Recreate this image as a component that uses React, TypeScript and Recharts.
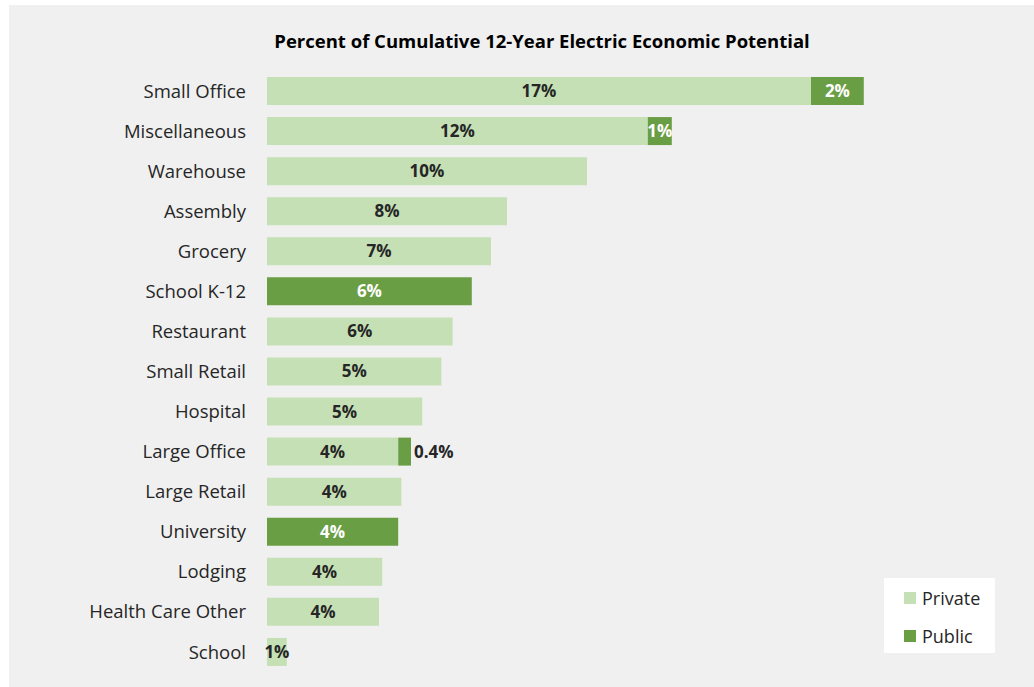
import { BarChart, Bar, XAxis, YAxis, LabelList } from 'recharts'

const categories = [
  'Small Office',
  'Miscellaneous',
  'Warehouse',
  'Assembly',
  'Grocery',
  'School K-12',
  'Restaurant',
  'Small Retail',
  'Hospital',
  'Large Office',
  'Large Retail',
  'University',
  'Lodging',
  'Health Care Other',
  'School',
]
const privateValues = [17.0, 11.9, 10.0, 7.5, 7.0, 0, 5.8, 5.45, 4.85, 4.1, 4.2, 0, 3.6, 3.5, 0.62]
const publicValues = [1.65, 0.75, 0, 0, 0, 6.4, 0, 0, 0, 0.4, 0, 4.1, 0, 0, 0]
const seriesNames = ['Private', 'Public']

const data = categories.map((name, i) => ({
  name,
  private: privateValues[i],
  public: publicValues[i],
}))

const LIGHT = '#c5e0b4'
const DARK = '#6a9e44'
const FONT = '"Open Sans", sans-serif'

const fmt = (v: number) => (v < 0.5 ? `${v.toFixed(1)}%` : `${Math.round(v)}%`)

function makeLabel(fill: string) {
  return (props: any) => {
    const { x, y, width, height, value } = props
    if (!value) return null
    const small = width < 16
    return (
      <text
        x={small ? x + width + 3 : x + width / 2}
        y={y + height / 2}
        dy={6}
        textAnchor={small ? 'start' : 'middle'}
        fill={small ? '#262626' : fill}
        fontSize={17}
        fontWeight="bold"
        fontFamily={FONT}
      >
        {fmt(value)}
      </text>
    )
  }
}

function LegendBox() {
  const colors = [LIGHT, DARK]
  return (
    <div
      style={{
        position: 'absolute',
        left: 875,
        top: 573,
        width: 111,
        height: 75,
        background: '#fff',
      }}
    >
      {seriesNames.map((n, i) => (
        <div
          key={n}
          style={{ position: 'absolute', left: 20, top: 8 + i * 38, display: 'flex', alignItems: 'center' }}
        >
          <span style={{ width: 12, height: 12, background: colors[i], marginRight: 6 }} />
          <span style={{ fontSize: 18, color: '#262626', fontFamily: FONT }}>{n}</span>
        </div>
      ))}
    </div>
  )
}

export default function App() {
  return (
    <div
      style={{
        position: 'absolute',
        left: 9,
        top: 5,
        width: 1025,
        height: 682,
        background: '#f0f0f0',
        fontFamily: FONT,
      }}
    >
      <div
        style={{
          position: 'absolute',
          top: 23,
          left: 0,
          width: 1066,
          textAlign: 'center',
          fontWeight: 'bold',
          fontSize: 18.5,
          color: '#000',
        }}
      >
        Percent of Cumulative 12-Year Electric Economic Potential
      </div>
      <BarChart
        width={1025}
        height={682}
        data={data}
        layout="vertical"
        margin={{ top: 66, right: 31, bottom: 15, left: 0 }}
        barSize={28}
      >
        <XAxis type="number" domain={[0, 23]} hide />
        <YAxis
          type="category"
          dataKey="name"
          width={258}
          axisLine={false}
          tickLine={false}
          tickMargin={15}
          interval={0}
          tick={{ fill: '#262626', fontSize: 18.5, fontFamily: FONT }}
        />
        <Bar dataKey="private" name={seriesNames[0]} stackId="a" fill={LIGHT} isAnimationActive={false}>
          <LabelList dataKey="private" content={makeLabel('#262626')} />
        </Bar>
        <Bar dataKey="public" name={seriesNames[1]} stackId="a" fill={DARK} isAnimationActive={false}>
          <LabelList dataKey="public" content={makeLabel('#ffffff')} />
        </Bar>
      </BarChart>
      <LegendBox />
    </div>
  )
}
